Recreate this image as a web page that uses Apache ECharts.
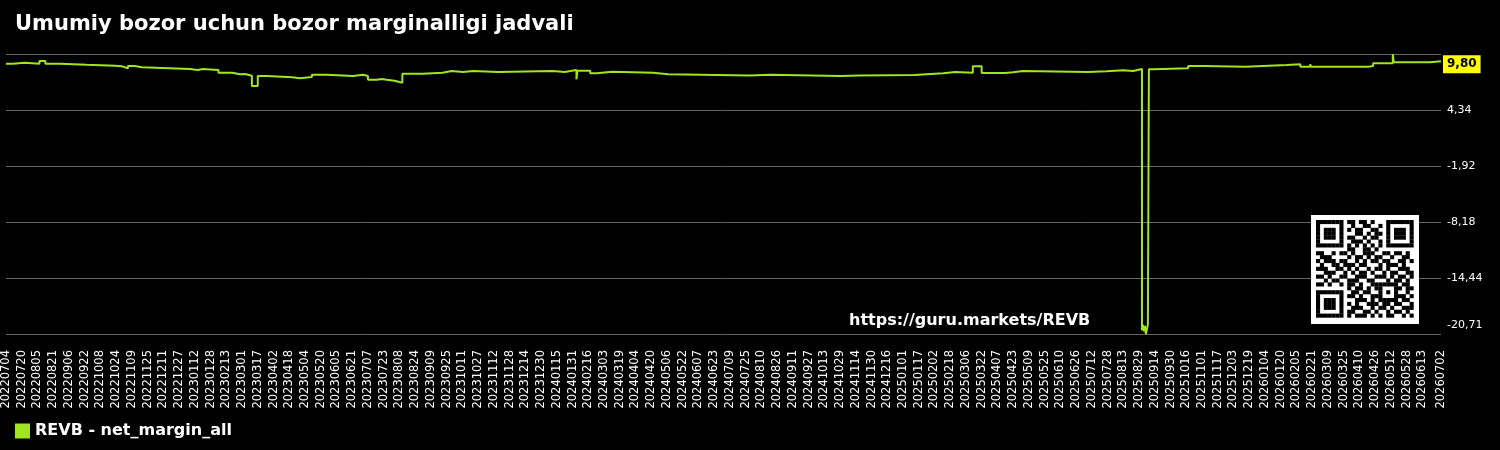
<!DOCTYPE html>
<html>
<head>
<meta charset="utf-8">
<script src="https://cdn.jsdelivr.net/npm/echarts@6/dist/echarts.min.js"></script>
<style>
  html, body { margin: 0; padding: 0; background: #000; }
  #main { width: 1500px; height: 450px; }
</style>
</head>
<body>
<div id="main"></div>
<script>
// sana oralig'i (kunlik kategoriyalar)
var firstDay = '20220704';
var lastDay = '20260702';

// qiymat o'zgargan kunlar va shu kundan boshlab qiymat
var breakDates = [
  '20220704','20220711','20220723','20220807','20220813','20220828','20220924','20221023','20221030','20221105',
  '20221112','20221119','20230107','20230115','20230120','20230205','20230219','20230227','20230304','20230311',
  '20230317','20230326','20230421','20230429','20230511','20230526','20230622','20230702','20230707','20230716',
  '20230721','20230726','20230803','20230811','20230901','20230921','20230930','20231012','20231022','20231116',
  '20240111','20240123','20240204','20240205','20240218','20240225','20240311','20240422','20240502','20240507',
  '20240729','20240819','20241029','20241118','20250113','20250125','20250211','20250223','20250313','20250322',
  '20250415','20250423','20250503','20250708','20250727','20250813','20250823','20250901','20250902','20250903',
  '20250904','20250905','20250906','20250907','20250908','20250913','20251018','20251102','20251215','20260126',
  '20260209','20260219','20260220','20260419','20260424','20260514','20260515','20260621','20260702'
];
var breakValues = [
  9.51, 9.63, 9.51, 9.82, 9.51, 9.40, 9.29, 9.22, 9.00, 9.26,
  9.11, 8.92, 8.81, 8.92, 8.81, 8.51, 8.33, 8.36, 8.17, 7.02,
  8.14, 8.00, 7.88, 8.03, 8.29, 8.14, 8.29, 8.14, 7.72, 7.80,
  7.72, 7.61, 7.39, 8.40, 8.51, 8.70, 8.59, 8.70, 8.59, 8.70,
  8.59, 8.81, 7.77, 8.74, 8.44, 8.62, 8.51, 8.40, 8.33, 8.21,
  8.29, 8.14, 8.21, 8.25, 8.33, 8.44, 8.59, 8.51, 9.22, 8.48,
  8.55, 8.70, 8.59, 8.66, 8.77, 8.70, 8.92, -20.30, -19.70, -20.40,
  -19.80, -20.71, -20.20, -19.60, 8.89, 9.00, 9.26, 9.18, 9.37, 9.45,
  9.18, 9.45, 9.18, 9.26, 9.56, 10.60, 9.67, 9.80, 9.80
];

// o'q chegaralari
var yMin = -20.7055;
var yMax = 10.60;

var lineColor = '#a1e51e';

// kunlik kategoriyalar
function ymd(d) {
  var m = d.getUTCMonth() + 1, dd = d.getUTCDate();
  return d.getUTCFullYear() + (m < 10 ? '0' : '') + m + (dd < 10 ? '0' : '') + dd;
}
function parseYmd(s) {
  return new Date(Date.UTC(+s.slice(0, 4), +s.slice(4, 6) - 1, +s.slice(6, 8)));
}
var categories = [];
for (var t = parseYmd(firstDay); ymd(t) <= lastDay; t = new Date(t.getTime() + 86400000)) {
  categories.push(ymd(t));
}
var lastIdx = categories.length - 1;

// shkala pastki chegaradan boshlanadi (ticklar min dan sanaladi)
var yStep = (yMax - yMin) / 5;
var seriesData = breakDates.map(function (d, i) {
  return [d, breakValues[i] - yMin];
});

function fmt(v) {
  return v.toFixed(2).replace('.', ',');
}

// QR kod
var qr = [
  '1111111011011010001111111',
  '1000001001001100101000001',
  '1011101010110011001011101',
  '1011101000110101101011101',
  '1011101011001011001011101',
  '1000001001110100101000001',
  '1111111010101010101111111',
  '0000000011001101000000000',
  '1100101101001110011011010',
  '0111000010110101100100110',
  '1011101100101011011001101',
  '0100110111011000101110100',
  '1110011010100101101001110',
  '0011100101011010010110011',
  '1101001100111001110101101',
  '0010110011100110001011010',
  '1101001011010011111110110',
  '0000000010110101100011011',
  '1111111001101100101010010',
  '1000001011010011100011101',
  '1011101000111010111110110',
  '1011101010100111011011001',
  '1011101001110010110100111',
  '1000001011001101001011010',
  '1111111010111010101100101'
];
var qrX = 1311, qrY = 215, qrSize = 108, mod = 3.9, qrPad = 5;
var graphics = [
  {
    type: 'text', left: 849, top: 313, z: 10,
    style: { text: 'https://guru.markets/REVB', fill: '#fff', font: 'bold 16px "DejaVu Sans"' }
  },
  {
    type: 'rect', x: qrX, y: qrY, z: 10,
    shape: { width: qrSize, height: qrSize + 1 }, style: { fill: '#fff' }
  }
];
qr.forEach(function (row, r) {
  for (var c = 0; c < row.length; c++) {
    if (row[c] === '1') {
      graphics.push({
        type: 'rect', z: 11, silent: true,
        x: qrX + qrPad + c * mod, y: qrY + qrPad + r * mod,
        shape: { width: mod + 0.2, height: mod + 0.2 },
        style: { fill: '#000' }
      });
    }
  }
});

var myChart = echarts.init(document.getElementById('main'));

option = {
  backgroundColor: '#000',
  animation: false,
  title: {
    text: 'Umumiy bozor uchun bozor marginalligi jadvali',
    left: 10,
    top: 9,
    textStyle: { color: '#fff', fontSize: 21, fontWeight: 'bold', fontFamily: 'DejaVu Sans' }
  },
  legend: {
    left: 10,
    top: 418,
    icon: 'rect',
    itemWidth: 15,
    itemHeight: 15,
    itemGap: 5,
    textStyle: { color: '#fff', fontSize: 16, fontWeight: 'bold', fontFamily: 'DejaVu Sans' },
    data: ['REVB - net_margin_all']
  },
  grid: { left: 6, right: 59, top: 54, bottom: 116 },
  xAxis: {
    type: 'category',
    data: categories,
    boundaryGap: false,
    axisLine: { show: false },
    axisTick: { show: false },
    splitLine: { show: false },
    axisLabel: {
      rotate: 90,
      margin: 16,
      color: '#fff',
      fontSize: 11.5,
      fontFamily: 'DejaVu Sans',
      interval: function (idx) {
        return (idx % 16 === 0 && idx < lastIdx - 8) || idx === lastIdx;
      }
    }
  },
  yAxis: {
    type: 'value',
    position: 'right',
    min: 0,
    max: yStep * 5,
    interval: yStep,
    axisLine: { show: false },
    axisTick: { show: false },
    splitLine: { lineStyle: { color: '#666', width: 1 } },
    axisLabel: {
      showMaxLabel: false,
      margin: 6,
      color: '#fff',
      fontSize: 11,
      fontFamily: 'DejaVu Sans',
      formatter: function (v) {
        if (Math.abs(v) < 1e-6) return '{lo|' + fmt(yMin) + '}';
        return fmt(v + yMin);
      },
      rich: {
        lo: { color: '#fff', fontSize: 11, fontFamily: 'DejaVu Sans', padding: [0, 0, 18, 0] }
      }
    }
  },
  graphic: graphics,
  series: [
    {
      name: 'REVB - net_margin_all',
      type: 'line',
      step: 'end',
      data: seriesData,
      showSymbol: false,
      color: lineColor,
      lineStyle: { color: lineColor, width: 2 },
      endLabel: {
        show: true,
        distance: 2,
        offset: [0, 3],
        formatter: function (p) { return fmt(p.value[1] + yMin); },
        color: '#000',
        backgroundColor: '#ffff00',
        fontWeight: 'bold',
        fontSize: 12,
        fontFamily: 'DejaVu Sans',
        padding: [3, 4, 3, 4]
      }
    }
  ]
};

myChart.setOption(option);
</script>
</body>
</html>
